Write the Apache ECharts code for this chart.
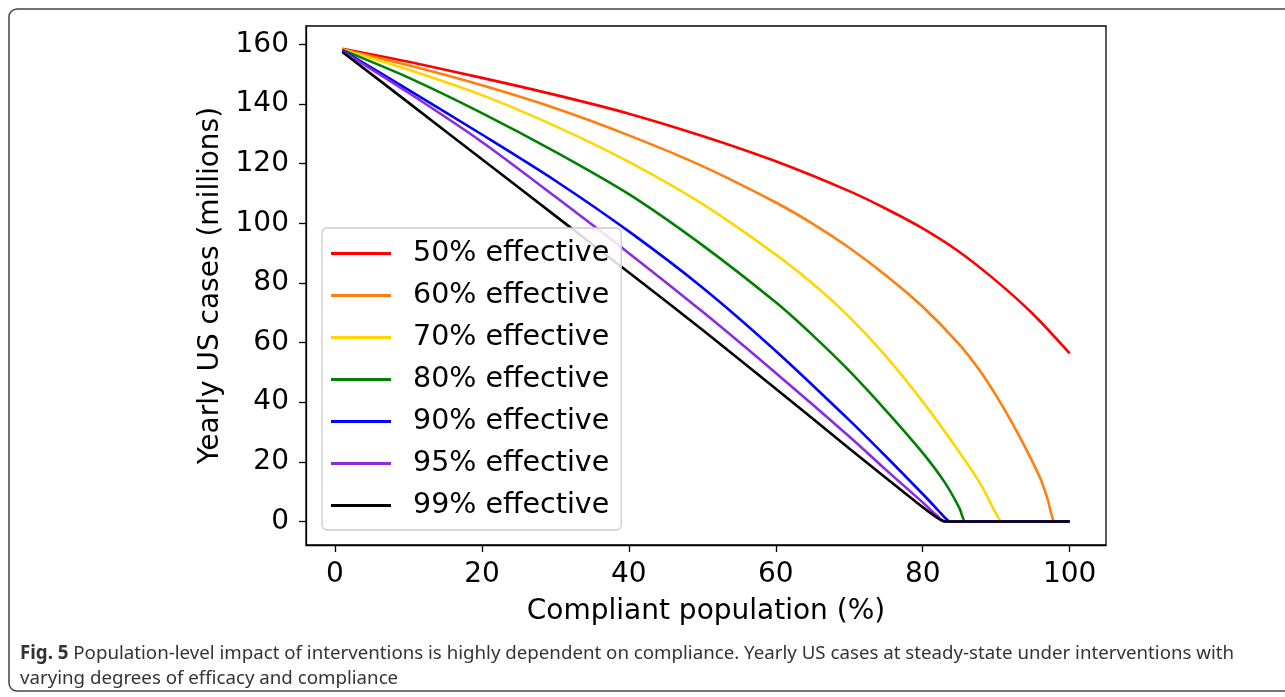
<!DOCTYPE html>
<html><head><meta charset="utf-8">
<script src="https://cdn.jsdelivr.net/npm/echarts@6/dist/echarts.min.js"></script>
<style>html,body{margin:0;padding:0;background:#fff}#c{width:1285px;height:697px}</style>
</head><body><div id="c"></div>
<script>
// ---- data ----
const seriesNames = ['50% effective','60% effective','70% effective','80% effective','90% effective','95% effective','99% effective'];
const seriesColors = ['#ff0000','#ff7f0e','#ffd700','#008000','#0000ff','#8a2be2','#000000'];

const xTicks = [0,20,40,60,80,100];
const xTickLabels = ['0','20','40','60','80','100'];
const yTicks = [0,20,40,60,80,100,120,140,160];
const yTickLabels = ['0','20','40','60','80','100','120','140','160'];

const x50 = [1,10,20,30,40,50,60,70,75,80,85,90,95,100];
const y50 = [158.6,154.2,148.8,143.1,136.8,129.3,120.8,110.8,104.9,98.3,90.4,80.7,69.6,56.4];

const x60 = [1,10,20,30,40,50,60,65,70,75,80,85,88,90,92,94,96,97,97.8,98.3,100];
const y60 = [158.4,153.0,146.3,138.6,129.5,119.2,107.0,99.9,91.8,82.5,72.0,59.3,49.8,42.2,33.8,24.6,14.5,7.5,0.3,0,0];

const x70 = [1,10,20,30,40,50,60,65,70,75,80,85,88,89.9,90.8,91.3,100];
const y70 = [158.3,151.5,143.0,132.6,120.6,106.5,89.5,79.8,68.6,55.4,40.2,23.2,12.0,3.0,0,0,0];

const x80 = [1,10,20,30,40,50,60,65,70,75,80,83,85,85.8,86.3,100];
const y80 = [158.2,148.9,137.0,124.0,109.8,92.7,73.5,62.5,50.5,37.2,23.0,13.1,4.5,0,0,0];

const x90 = [1,10,20,30,40,50,60,70,75,80,82,83.2,83.7,100];
const y90 = [158.0,144.8,129.8,114.3,97.3,78.5,57.2,34.0,21.8,9.2,4.0,0.8,0,0];

const x95 = [1,10,20,30,40,50,60,70,75,80,82,83,83.5,100];
const y95 = [157.8,143.8,127.3,108.9,90.0,70.4,49.8,28.5,17.3,6.4,1.8,0,0,0];

const x99 = [1,10,20,30,40,50,60,70,75,80,82,83,83.5,100];
const y99 = [157.5,140.5,121.5,102.5,83.5,64.3,44.5,24.5,14.6,4.8,1.2,0,0,0];

const captionBold = 'Fig. 5';
const captionLine1 = ' Population-level impact of interventions is highly dependent on compliance. Yearly US cases at steady-state under interventions with';
const captionLine2 = 'varying degrees of efficacy and compliance';

// ---- build ----
const xs = [x50,x60,x70,x80,x90,x95,x99];
const ys = [y50,y60,y70,y80,y90,y95,y99];
const font = 'DejaVu Sans';

const series = seriesNames.map((n,i)=>({
  name:n, type:'line', showSymbol:false, symbol:'none', smooth:0.3,
  lineStyle:{color:seriesColors[i], width:2.6},
  itemStyle:{color:seriesColors[i]},
  data: xs[i].map((x,j)=>[x, ys[i][j]])
}));

const chart = echarts.init(document.getElementById('c'), null, {renderer:'canvas'});
chart.setOption({
  animation:false,
  backgroundColor:'#fff',
  grid:{left:306, top:26, width:800, height:519, show:true, borderColor:'#000', borderWidth:1.3},
  xAxis:{
    type:'value', min:-3.95, max:104.95,
    splitLine:{show:false},
    axisLine:{show:true, onZero:false, lineStyle:{color:'#000', width:1.3}},
    axisTick:{show:true, customValues:xTicks, length:7, lineStyle:{color:'#000', width:1.3}},
    axisLabel:{customValues:xTicks, formatter:v=>xTickLabels[xTicks.indexOf(v)] ?? '', fontSize:28, fontFamily:font, color:'#000', margin:16},
    name:'Compliant population (%)', nameLocation:'middle', nameGap:53,
    nameTextStyle:{fontSize:28, fontFamily:font, color:'#000'}
  },
  yAxis:{
    type:'value', min:-7.9, max:166.2,
    splitLine:{show:false},
    axisLine:{show:true, onZero:false, lineStyle:{color:'#000', width:1.3}},
    axisTick:{show:true, customValues:yTicks, length:7, lineStyle:{color:'#000', width:1.3}},
    axisLabel:{customValues:yTicks, formatter:v=>yTickLabels[yTicks.indexOf(v)] ?? '', fontSize:28, fontFamily:font, color:'#000', margin:17},
    name:'Yearly US cases (millions)', nameLocation:'middle', nameGap:72,
    nameTextStyle:{fontSize:28, fontFamily:font, color:'#000'}
  },
  legend:{
    orient:'vertical', left:322, top:228, icon:'rect', itemWidth:60, itemHeight:3, itemGap:13,
    padding:[11,12,10,9], backgroundColor:'rgba(255,255,255,0.85)', borderColor:'#cccccc', borderWidth:1.3, borderRadius:5,
    textStyle:{fontSize:28.5, fontFamily:font, color:'#000', lineHeight:28, padding:[0,0,0,17]},
    data:seriesNames
  },
  series:series,
  graphic:[
    {type:'rect', shape:{x:9, y:9, width:1300, height:682, r:8}, style:{fill:'none', stroke:'#444', lineWidth:1.5}, silent:true},
    {type:'text', x:20, y:654, style:{
      text:'{b|'+captionBold+'}'+captionLine1, textVerticalAlign:'middle',
      fontSize:18.7, fontFamily:'Noto Sans', fill:'#333',
      rich:{b:{fontWeight:'bold', fontSize:18.7, fontFamily:'Noto Sans', fill:'#333'}}
    }},
    {type:'text', x:20, y:679, style:{text:captionLine2, textVerticalAlign:'middle', fontSize:18.7, fontFamily:'Noto Sans', fill:'#333'}}
  ]
});
</script></body></html>
